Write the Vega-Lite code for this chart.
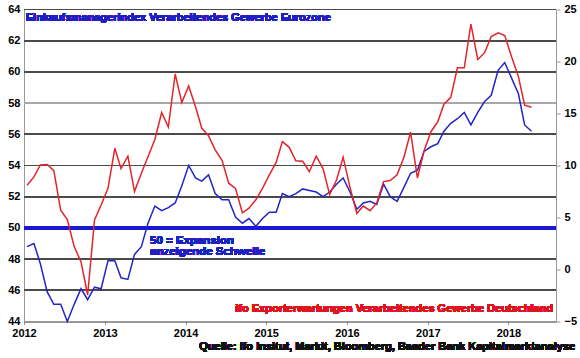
{
  "$schema": "https://vega.github.io/schema/vega-lite/v6.json",
  "width": 532,
  "height": 312,
  "autosize": {"type": "none"},
  "padding": {"left": 24, "top": 9.5, "right": 24, "bottom": 36.5},
  "background": "white",
  "config": {
    "view": {"stroke": null},
    "font": "Liberation Sans",
    "axis": {"labelFont": "Liberation Sans", "labelFontWeight": "bold", "labelFontSize": 11, "labelColor": "#000000", "title": null, "labelOverlap": false}
  },
  "data": {"values": [
    {"date": "2012-01-15", "pmi": 48.8, "ifo": 8.1},
    {"date": "2012-02-15", "pmi": 49.0, "ifo": 8.9},
    {"date": "2012-03-15", "pmi": 47.7, "ifo": 10.05},
    {"date": "2012-04-15", "pmi": 45.9, "ifo": 10.1},
    {"date": "2012-05-15", "pmi": 45.1, "ifo": 9.5},
    {"date": "2012-06-15", "pmi": 45.1, "ifo": 5.7},
    {"date": "2012-07-15", "pmi": 44.0, "ifo": 4.8},
    {"date": "2012-08-15", "pmi": 45.1, "ifo": 2.2},
    {"date": "2012-09-15", "pmi": 46.1, "ifo": 0.75},
    {"date": "2012-10-15", "pmi": 45.4, "ifo": -2.45},
    {"date": "2012-11-15", "pmi": 46.2, "ifo": 4.76},
    {"date": "2012-12-15", "pmi": 46.1, "ifo": 6.2},
    {"date": "2013-01-15", "pmi": 47.9, "ifo": 7.8},
    {"date": "2013-02-15", "pmi": 47.9, "ifo": 11.65},
    {"date": "2013-03-15", "pmi": 46.8, "ifo": 9.7},
    {"date": "2013-04-15", "pmi": 46.7, "ifo": 10.9},
    {"date": "2013-05-15", "pmi": 48.3, "ifo": 7.5},
    {"date": "2013-06-15", "pmi": 48.8, "ifo": 9.25},
    {"date": "2013-07-15", "pmi": 50.3, "ifo": 10.85},
    {"date": "2013-08-15", "pmi": 51.4, "ifo": 12.5},
    {"date": "2013-09-15", "pmi": 51.1, "ifo": 15.1},
    {"date": "2013-10-15", "pmi": 51.3, "ifo": 13.7},
    {"date": "2013-11-15", "pmi": 51.6, "ifo": 18.8},
    {"date": "2013-12-15", "pmi": 52.7, "ifo": 16.05},
    {"date": "2014-01-15", "pmi": 54.0, "ifo": 17.65},
    {"date": "2014-02-15", "pmi": 53.2, "ifo": 15.65},
    {"date": "2014-03-15", "pmi": 53.0, "ifo": 13.6},
    {"date": "2014-04-15", "pmi": 53.4, "ifo": 12.85},
    {"date": "2014-05-15", "pmi": 52.2, "ifo": 11.5},
    {"date": "2014-06-15", "pmi": 51.8, "ifo": 10.5},
    {"date": "2014-07-15", "pmi": 51.8, "ifo": 8.3},
    {"date": "2014-08-15", "pmi": 50.7, "ifo": 7.8},
    {"date": "2014-09-15", "pmi": 50.3, "ifo": 5.45},
    {"date": "2014-10-15", "pmi": 50.6, "ifo": 5.9},
    {"date": "2014-11-15", "pmi": 50.1, "ifo": 6.7},
    {"date": "2014-12-15", "pmi": 50.6, "ifo": 7.8},
    {"date": "2015-01-15", "pmi": 51.0, "ifo": 9.1},
    {"date": "2015-02-15", "pmi": 51.0, "ifo": 10.3},
    {"date": "2015-03-15", "pmi": 52.2, "ifo": 12.3},
    {"date": "2015-04-15", "pmi": 52.0, "ifo": 11.75},
    {"date": "2015-05-15", "pmi": 52.2, "ifo": 10.45},
    {"date": "2015-06-15", "pmi": 52.5, "ifo": 10.4},
    {"date": "2015-07-15", "pmi": 52.4, "ifo": 9.4},
    {"date": "2015-08-15", "pmi": 52.3, "ifo": 10.9},
    {"date": "2015-09-15", "pmi": 52.0, "ifo": 9.7},
    {"date": "2015-10-15", "pmi": 52.3, "ifo": 7.2},
    {"date": "2015-11-15", "pmi": 52.8, "ifo": 8.6},
    {"date": "2015-12-15", "pmi": 53.2, "ifo": 10.8},
    {"date": "2016-01-15", "pmi": 52.3, "ifo": 7.9},
    {"date": "2016-02-15", "pmi": 51.2, "ifo": 5.4},
    {"date": "2016-03-15", "pmi": 51.6, "ifo": 6.1},
    {"date": "2016-04-15", "pmi": 51.7, "ifo": 5.65},
    {"date": "2016-05-15", "pmi": 51.5, "ifo": 6.4},
    {"date": "2016-06-15", "pmi": 52.8, "ifo": 8.45},
    {"date": "2016-07-15", "pmi": 52.0, "ifo": 8.55},
    {"date": "2016-08-15", "pmi": 51.7, "ifo": 9.1},
    {"date": "2016-09-15", "pmi": 52.6, "ifo": 10.8},
    {"date": "2016-10-15", "pmi": 53.5, "ifo": 13.2},
    {"date": "2016-11-15", "pmi": 53.7, "ifo": 8.8},
    {"date": "2016-12-15", "pmi": 54.9, "ifo": 11.4},
    {"date": "2017-01-15", "pmi": 55.2, "ifo": 13.25},
    {"date": "2017-02-15", "pmi": 55.4, "ifo": 14.2},
    {"date": "2017-03-15", "pmi": 56.2, "ifo": 15.9},
    {"date": "2017-04-15", "pmi": 56.7, "ifo": 16.55},
    {"date": "2017-05-15", "pmi": 57.0, "ifo": 19.4},
    {"date": "2017-06-15", "pmi": 57.4, "ifo": 19.4},
    {"date": "2017-07-15", "pmi": 56.6, "ifo": 23.6},
    {"date": "2017-08-15", "pmi": 57.4, "ifo": 20.2},
    {"date": "2017-09-15", "pmi": 58.1, "ifo": 20.85},
    {"date": "2017-10-15", "pmi": 58.5, "ifo": 22.4},
    {"date": "2017-11-15", "pmi": 60.1, "ifo": 22.75},
    {"date": "2017-12-15", "pmi": 60.6, "ifo": 22.5},
    {"date": "2018-01-15", "pmi": 59.6, "ifo": 20.45},
    {"date": "2018-02-15", "pmi": 58.6, "ifo": 18.55},
    {"date": "2018-03-15", "pmi": 56.6, "ifo": 15.8},
    {"date": "2018-04-15", "pmi": 56.2, "ifo": 15.6}
  ]},
  "layer": [
    {
      "encoding": {
        "x": {"field": "date", "type": "temporal", "scale": {"domain": ["2012-01-01", "2018-08-04"]},
          "axis": {"orient": "bottom", "format": "%Y", "values": [{"year": 2012, "month": 1, "date": 1}, {"year": 2013, "month": 1, "date": 1}, {"year": 2014, "month": 1, "date": 1}, {"year": 2015, "month": 1, "date": 1}, {"year": 2016, "month": 1, "date": 1}, {"year": 2017, "month": 1, "date": 1}, {"year": 2018, "month": 1, "date": 1}], "grid": false, "domainColor": "#333333", "tickSize": 3, "tickColor": "#999999", "labelPadding": 3, "labelFlush": false, "labelOverlap": false}},
        "y": {"field": "pmi", "type": "quantitative", "scale": {"domain": [44, 64], "nice": false, "zero": false},
          "axis": {"orient": "left", "values": [44, 46, 48, 50, 52, 54, 56, 58, 60, 62, 64], "grid": false, "labelOverlap": false,
            "domainColor": "#999999", "ticks": false, "labelPadding": 4}}
      },
      "layer": [
        {"mark": {"type": "rule", "color": "#4a4a4a", "strokeWidth": 1}, "encoding": {"x": null, "y": {"datum": 46, "type": "quantitative"}}},
        {"mark": {"type": "rule", "color": "#4a4a4a", "strokeWidth": 1}, "encoding": {"x": null, "y": {"datum": 48, "type": "quantitative"}}},
        {"mark": {"type": "rule", "color": "#4a4a4a", "strokeWidth": 1}, "encoding": {"x": null, "y": {"datum": 52, "type": "quantitative"}}},
        {"mark": {"type": "rule", "color": "#4a4a4a", "strokeWidth": 1}, "encoding": {"x": null, "y": {"datum": 54, "type": "quantitative"}}},
        {"mark": {"type": "rule", "color": "#4a4a4a", "strokeWidth": 1}, "encoding": {"x": null, "y": {"datum": 56, "type": "quantitative"}}},
        {"mark": {"type": "rule", "color": "#a8a8a8", "strokeWidth": 2}, "encoding": {"x": null, "y": {"datum": 58, "type": "quantitative"}}},
        {"mark": {"type": "rule", "color": "#4a4a4a", "strokeWidth": 1}, "encoding": {"x": null, "y": {"datum": 60, "type": "quantitative"}}},
        {"mark": {"type": "rule", "color": "#4a4a4a", "strokeWidth": 1}, "encoding": {"x": null, "y": {"datum": 62, "type": "quantitative"}}},
        {"mark": {"type": "rule", "color": "#4a4a4a", "strokeWidth": 1}, "encoding": {"x": null, "y": {"datum": 64, "type": "quantitative"}}},
        {
          "mark": {"type": "rule", "color": "#1818d0", "strokeWidth": 3},
          "encoding": {"x": null, "y": {"datum": 50, "type": "quantitative"}}
        },
        {
          "mark": {"type": "line", "color": "#2424c8", "strokeWidth": 1.5}
        },
        {
          "mark": {"type": "text", "align": "left", "baseline": "alphabetic", "font": "Liberation Sans", "fontWeight": "bold", "fontSize": 11, "color": "#2020c0"},
          "encoding": {
            "x": {"datum": {"year": 2012, "month": 1, "date": 9}, "type": "temporal"},
            "y": {"datum": 63.26, "type": "quantitative"},
            "text": {"value": "Einkaufsmanagerindex Verarbeitendes Gewerbe Eurozone"}
          }
        },
        {
          "mark": {"type": "text", "align": "left", "baseline": "alphabetic", "font": "Liberation Sans", "fontWeight": "bold", "fontSize": 11.5, "lineHeight": 11.5, "color": "#2020c0"},
          "encoding": {
            "x": {"datum": {"year": 2013, "month": 7, "date": 24}, "type": "temporal"},
            "y": {"datum": 49.0, "type": "quantitative"},
            "text": {"value": ["50 = Expansion", "anzeigende Schwelle"]}
          }
        },
        {
          "mark": {"type": "text", "align": "right", "baseline": "alphabetic", "font": "Liberation Sans", "fontWeight": "bold", "fontSize": 11, "color": "#e0141e"},
          "encoding": {
            "x": {"datum": {"year": 2018, "month": 7, "date": 22}, "type": "temporal"},
            "y": {"datum": 44.63, "type": "quantitative"},
            "text": {"value": "ifo Exporterwartungen Verarbeitendes Gewerbe Deutschland"}
          }
        },
        {
          "mark": {"type": "text", "align": "right", "baseline": "alphabetic", "font": "Liberation Sans", "fontWeight": "bold", "fontSize": 11, "color": "#111111", "clip": false},
          "encoding": {
            "x": {"datum": {"year": 2018, "month": 10, "date": 30}, "type": "temporal"},
            "y": {"datum": 42.17, "type": "quantitative"},
            "text": {"value": "Quelle: ifo Insitut, Markit, Bloomberg, Baader Bank Kapitalmarktanalyse"}
          }
        }
      ]
    },
    {
      "mark": {"type": "line", "color": "#e3242b", "strokeWidth": 1.5},
      "encoding": {
        "x": {"field": "date", "type": "temporal", "scale": {"domain": ["2012-01-01", "2018-08-04"]}, "axis": {"orient": "bottom", "format": "%Y", "values": [{"year": 2012, "month": 1, "date": 1}, {"year": 2013, "month": 1, "date": 1}, {"year": 2014, "month": 1, "date": 1}, {"year": 2015, "month": 1, "date": 1}, {"year": 2016, "month": 1, "date": 1}, {"year": 2017, "month": 1, "date": 1}, {"year": 2018, "month": 1, "date": 1}], "grid": false, "domainColor": "#333333", "tickSize": 3, "tickColor": "#999999", "labelPadding": 3, "labelFlush": false, "labelOverlap": false}},
        "y": {"field": "ifo", "type": "quantitative", "scale": {"domain": [-5, 25], "nice": false, "zero": false},
          "axis": {"orient": "right", "values": [-5, 0, 5, 10, 15, 20, 25], "grid": false, "domainColor": "#999999", "ticks": true, "tickSize": 4, "tickColor": "#999999", "labelPadding": 4, "labelOverlap": false}}
      }
    }
  ],
  "resolve": {"scale": {"y": "independent"}}
}
